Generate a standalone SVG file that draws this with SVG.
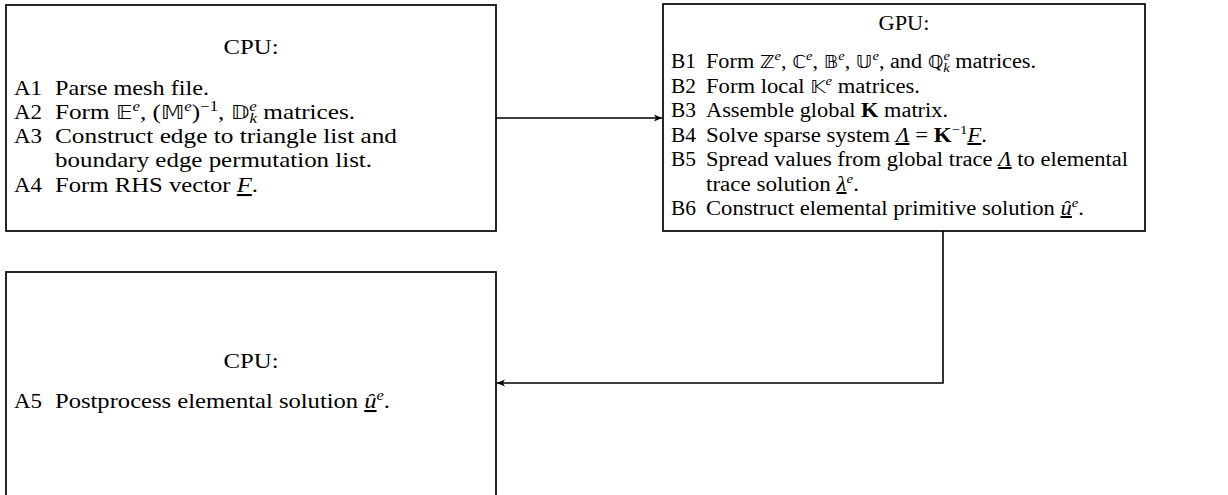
<svg xmlns="http://www.w3.org/2000/svg" width="1228" height="495" viewBox="0 0 1228 495">
<defs>
<style>
text{font-family:"Liberation Serif","Times New Roman",serif;font-size:21px;fill:#000}
.g text{font-size:20px}
.box{fill:#fff;stroke:#000;stroke-width:1.7}
.conn{fill:none;stroke:#000;stroke-width:1.6}
.it{font-style:italic}
.bb{font-family:"DejaVu Sans","Noto Sans",sans-serif;font-size:19px}
.g .bb{font-size:18px}
.sup{font-size:14px;font-style:italic}
.supr{font-size:14px}
.g .sup,.g .supr{font-size:13px}
.bf{font-weight:bold}
.ul{text-decoration:underline}
</style>
<marker id="arr" viewBox="-9 -5 10 10" refX="0" refY="0" markerWidth="10" markerHeight="10" orient="auto" markerUnits="userSpaceOnUse">
<path d="M0,0 L-8,-3.6 L-5.8,0 L-8,3.6 Z" fill="#000"/>
</marker>
</defs>
<rect width="1228" height="495" fill="#fff"/>

<g id="cpu1">
<rect class="box" x="6" y="5" width="490" height="226"/>
<text x="251" y="54" text-anchor="middle" textLength="55" lengthAdjust="spacingAndGlyphs">CPU:</text>
<text x="14" y="95" textLength="28" lengthAdjust="spacingAndGlyphs">A1</text>
<text x="55" y="95" textLength="154" lengthAdjust="spacingAndGlyphs">Parse mesh file.</text>
<text x="14" y="119" textLength="28" lengthAdjust="spacingAndGlyphs">A2</text>
<text x="55" y="119" textLength="300" lengthAdjust="spacingAndGlyphs">Form <tspan class="bb">𝔼</tspan><tspan class="sup" dy="-8">e</tspan><tspan dy="8">, (</tspan><tspan class="bb">𝕄</tspan><tspan class="sup" dy="-8">e</tspan><tspan dy="8">)</tspan><tspan class="supr" dy="-8">−1</tspan><tspan dy="8">, </tspan><tspan class="bb">𝔻</tspan><tspan class="sup" dy="-8">e</tspan><tspan class="sup" dx="-6" dy="12">k</tspan><tspan dy="-4"> matrices.</tspan></text>
<text x="14" y="143" textLength="28" lengthAdjust="spacingAndGlyphs">A3</text>
<text x="55" y="143" textLength="342" lengthAdjust="spacingAndGlyphs">Construct edge to triangle list and</text>
<text x="55" y="167" textLength="317" lengthAdjust="spacingAndGlyphs">boundary edge permutation list.</text>
<text x="14" y="192" textLength="28" lengthAdjust="spacingAndGlyphs">A4</text>
<text x="55" y="192" textLength="203" lengthAdjust="spacingAndGlyphs">Form RHS vector <tspan class="it ul">F</tspan>.</text>
</g>

<g id="gpu" class="g">
<rect class="box" x="663" y="4" width="482" height="227"/>
<text x="904" y="30" text-anchor="middle" textLength="51" lengthAdjust="spacingAndGlyphs">GPU:</text>
<text x="671" y="68" textLength="25" lengthAdjust="spacingAndGlyphs">B1</text>
<text x="706" y="68" textLength="330" lengthAdjust="spacingAndGlyphs">Form <tspan class="bb">ℤ</tspan><tspan class="sup" dy="-8">e</tspan><tspan dy="8">, </tspan><tspan class="bb">ℂ</tspan><tspan class="sup" dy="-8">e</tspan><tspan dy="8">, </tspan><tspan class="bb">𝔹</tspan><tspan class="sup" dy="-8">e</tspan><tspan dy="8">, </tspan><tspan class="bb">𝕌</tspan><tspan class="sup" dy="-8">e</tspan><tspan dy="8">, and </tspan><tspan class="bb">ℚ</tspan><tspan class="sup" dy="-8">e</tspan><tspan class="sup" dx="-6" dy="12">k</tspan><tspan dy="-4"> matrices.</tspan></text>
<text x="671" y="93" textLength="25" lengthAdjust="spacingAndGlyphs">B2</text>
<text x="706" y="93" textLength="214" lengthAdjust="spacingAndGlyphs">Form local <tspan class="bb">𝕂</tspan><tspan class="sup" dy="-8">e</tspan><tspan dy="8"> matrices.</tspan></text>
<text x="671" y="117" textLength="25" lengthAdjust="spacingAndGlyphs">B3</text>
<text x="706" y="117" textLength="242" lengthAdjust="spacingAndGlyphs">Assemble global <tspan class="bf">K</tspan> matrix.</text>
<text x="671" y="142" textLength="25" lengthAdjust="spacingAndGlyphs">B4</text>
<text x="706" y="142" textLength="281" lengthAdjust="spacingAndGlyphs">Solve sparse system <tspan class="it ul">Λ</tspan> = <tspan class="bf">K</tspan><tspan class="supr" dy="-8">−1</tspan><tspan class="it ul" dy="8">F</tspan>.</text>
<text x="671" y="166" textLength="25" lengthAdjust="spacingAndGlyphs">B5</text>
<text x="706" y="166" textLength="422" lengthAdjust="spacingAndGlyphs">Spread values from global trace <tspan class="it ul">Λ</tspan> to elemental</text>
<text x="706" y="191" textLength="153" lengthAdjust="spacingAndGlyphs">trace solution <tspan class="it ul">λ</tspan><tspan class="sup" dy="-8">e</tspan><tspan dy="8">.</tspan></text>
<text x="671" y="215" textLength="25" lengthAdjust="spacingAndGlyphs">B6</text>
<text x="706" y="215" textLength="378" lengthAdjust="spacingAndGlyphs">Construct elemental primitive solution <tspan class="it ul">û</tspan><tspan class="sup" dy="-8">e</tspan><tspan dy="8">.</tspan></text>
</g>

<g id="cpu2">
<rect class="box" x="6" y="272" width="490" height="226"/>
<text x="251" y="368" text-anchor="middle" textLength="55" lengthAdjust="spacingAndGlyphs">CPU:</text>
<text x="14" y="408" textLength="28" lengthAdjust="spacingAndGlyphs">A5</text>
<text x="55" y="408" textLength="335" lengthAdjust="spacingAndGlyphs">Postprocess elemental solution <tspan class="it ul">û</tspan><tspan class="sup" dy="-8">e</tspan><tspan dy="8">.</tspan></text>
</g>

<g id="connectors">
<path class="conn" d="M496,118 H662" marker-end="url(#arr)"/>
<path class="conn" d="M943,231 V383 H497" marker-end="url(#arr)"/>
</g>
</svg>
